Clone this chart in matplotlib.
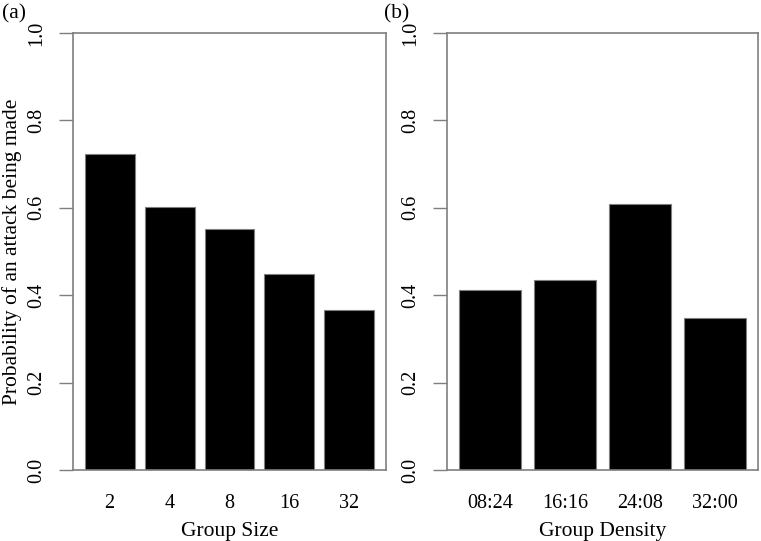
import matplotlib
matplotlib.use("Agg")
import matplotlib.pyplot as plt
import numpy as np

plt.rcParams['font.family'] = ['Liberation Serif', 'DejaVu Serif']

# DATA

size_labels = ["2", "4", "8", "16", "32"]
size_probs = [0.722, 0.601, 0.552, 0.449, 0.366]

density_labels = ["08:24", "16:16", "24:08", "32:00"]
density_probs = [0.413, 0.435, 0.609, 0.347]

y_ticks = [0.0, 0.2, 0.4, 0.6, 0.8, 1.0]

# STYLE

grey = "#7f7f7f"
fs = 14.5
fs_lab = 15.5

fig = plt.figure(figsize=(7.61, 5.41), dpi=100)
ax_a = fig.add_axes([73/761, 71/541, 313/761, 437/541])
ax_b = fig.add_axes([447/761, 71/541, 311/761, 437/541])


def r_barplot(ax, labels, values, xlabel):
    # R style: bar width 1, gap 0.2, 4% padding on x
    n = len(values)
    pos = 0.2 + 1.2 * np.arange(n) + 0.5
    ax.bar(pos, values, width=1.0, color="black", edgecolor=grey, linewidth=0.8)
    lo, hi = 0.2, 1.2 * n
    pad = 0.04 * (hi - lo)
    ax.set_xlim(lo - pad, hi + pad)
    ax.set_ylim(0, 1)
    ax.set_xticks(pos)
    ax.set_xticklabels(labels, fontsize=fs)
    ax.tick_params(axis="x", length=0, pad=17)
    ax.set_yticks(y_ticks)
    ax.set_yticklabels(["%.1f" % v for v in y_ticks], fontsize=fs,
                       rotation=90, va="center")
    ax.tick_params(axis="y", length=10, width=1, color=grey, pad=9)
    for s in ax.spines.values():
        s.set_color(grey)
        s.set_linewidth(1.2)
    ax.set_xlabel(xlabel, fontsize=fs_lab, labelpad=7)


r_barplot(ax_a, size_labels, size_probs, "Group Size")
r_barplot(ax_b, density_labels, density_probs, "Group Density")

fig.text(12/761, 1 - 252/541, "Probability of an attack being made",
         rotation=90, ha="center", va="center", fontsize=fs_lab)
fig.text(2/761, 1 - 14/541, "(a)", ha="left", va="center", fontsize=fs_lab)
fig.text(384/761, 1 - 14/541, "(b)", ha="left", va="center", fontsize=fs_lab)

fig.savefig("out.png", dpi=100)
